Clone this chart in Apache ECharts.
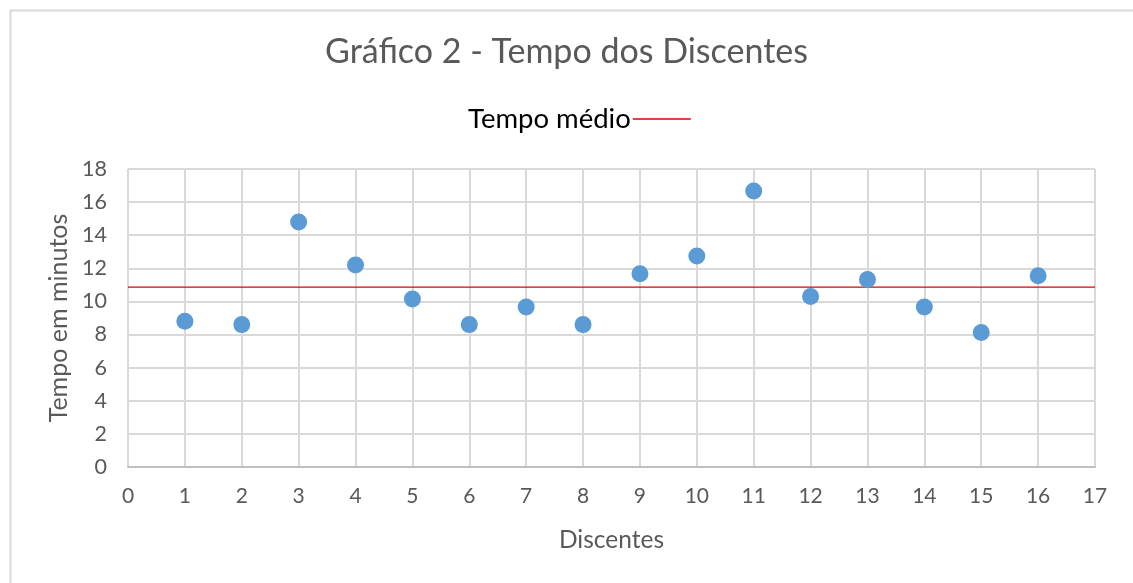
<!DOCTYPE html>
<html>
<head>
<meta charset="utf-8">
<script src="https://cdn.jsdelivr.net/npm/echarts@6/dist/echarts.min.js"></script>
<style>html,body{margin:0;padding:0;background:#fff;}#c{width:1133px;height:583px;}</style>
</head>
<body>
<div id="c"></div>
<script>
var discentes = [1, 2, 3, 4, 5, 6, 7, 8, 9, 10, 11, 12, 13, 14, 15, 16];
var tempos = [8.8, 8.6, 14.8, 12.2, 10.15, 8.6, 9.67, 8.6, 11.67, 12.75, 16.67, 10.3, 11.33, 9.67, 8.12, 11.55];
var tempoMedio = 10.86;
var xTicks = [0, 17];
var yTicks = [0, 18];

var font = 'Lato';
var chart = echarts.init(document.getElementById('c'), null, {renderer: 'canvas'});
chart.setOption({
  animation: false,
  backgroundColor: '#fff',
  textStyle: {fontFamily: font},
  graphic: [{
    type: 'rect', left: 8, top: 8, silent: true,
    shape: {x: 0, y: 0, width: 1200, height: 1000},
    style: {fill: 'none', stroke: '#d9d9d9', lineWidth: 2},
    z: -1
  }],
  title: {
    text: 'Gráfico 2 - Tempo dos Discentes',
    left: 'center', top: 30,
    textStyle: {fontFamily: font, fontSize: 34, fontWeight: 'normal', color: '#595959'}
  },
  legend: {
    data: [{name: 'Tempo médio', icon: 'rect'}],
    left: 463, top: 100,
    align: 'right',
    itemWidth: 58, itemHeight: 1.5, itemGap: 0,
    textStyle: {fontFamily: font, fontSize: 27.5, color: '#000', padding: [0, -3, 0, 0]}
  },
  grid: {left: 128, right: 38, top: 169, bottom: 116, show: false},
  xAxis: {
    type: 'value', min: xTicks[0], max: xTicks[1], interval: 1,
    name: 'Discentes', nameLocation: 'middle', nameGap: 61,
    nameTextStyle: {fontFamily: font, fontSize: 24.5, color: '#595959'},
    axisLine: {show: true, lineStyle: {color: '#bfbfbf', width: 2}},
    axisTick: {show: false},
    axisLabel: {fontFamily: font, fontSize: 21, color: '#595959', margin: 19},
    splitLine: {show: true, lineStyle: {color: '#d9d9d9', width: 2}}
  },
  yAxis: {
    type: 'value', min: yTicks[0], max: yTicks[1], interval: 2,
    name: 'Tempo em minutos', nameLocation: 'middle', nameGap: 57, nameRotate: 90,
    nameTextStyle: {fontFamily: font, fontSize: 25, color: '#595959'},
    axisLine: {show: false},
    axisTick: {show: false},
    axisLabel: {fontFamily: font, fontSize: 21.5, color: '#595959', margin: 21},
    splitLine: {show: true, lineStyle: {color: '#d9d9d9', width: 2}}
  },
  series: [{
    name: 'Pontos',
    type: 'scatter',
    data: discentes.map(function (d, i) { return [d, tempos[i]]; }),
    symbolSize: 17,
    itemStyle: {color: '#5b9bd5', opacity: 1},
    z: 5
  }, {
    name: 'Tempo médio',
    type: 'line',
    data: [[xTicks[0], tempoMedio], [xTicks[1], tempoMedio]],
    showSymbol: false, symbol: 'none',
    lineStyle: {color: '#e00000', width: 1.3},
    itemStyle: {color: '#e00000'},
    z: 4
  }]
});
</script>
</body>
</html>
